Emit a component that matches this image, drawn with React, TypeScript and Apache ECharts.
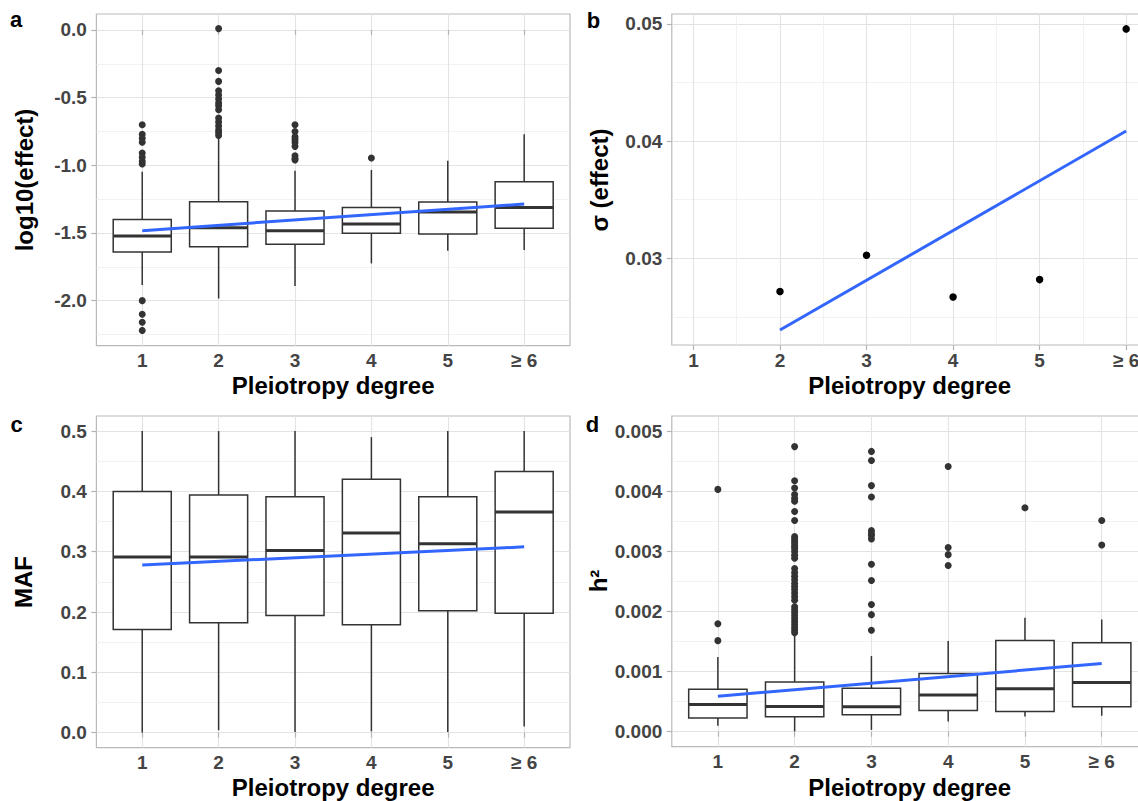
import React, { useEffect, useRef } from 'react';
import * as echarts from 'echarts';

const FONT = '"Liberation Sans", Arial, Helvetica, sans-serif';

// ---------- shared categories ----------
const degrees = [1, 2, 3, 4, 5, 6];
const degreeLabels = ['1', '2', '3', '4', '5', '≥ 6'];
const fitX = [1, 6];

// ---------- panel a : log10(effect) ----------
const aLow = [-1.885, -1.984, -1.892, -1.725, -1.631, -1.626];
const aQ1 = [-1.641, -1.602, -1.584, -1.503, -1.508, -1.466];
const aMedian = [-1.523, -1.461, -1.483, -1.434, -1.345, -1.311];
const aQ3 = [-1.4, -1.269, -1.338, -1.311, -1.272, -1.121];
const aHigh = [-1.047, -0.79, -1.04, -1.035, -0.966, -0.771];
const aOutliers = [
  [-0.7, -0.77, -0.8, -0.83, -0.91, -0.94, -0.97, -0.99, -2.0, -2.1, -2.16, -2.22],
  [0.01, -0.3, -0.38, -0.45, -0.48, -0.51, -0.54, -0.56, -0.59, -0.65, -0.68, -0.71, -0.74, -0.76, -0.78],
  [-0.7, -0.75, -0.79, -0.81, -0.83, -0.86, -0.93, -0.95, -0.96],
  [-0.946],
  [],
  [],
];
const aFitY = [-1.483, -1.286];
const aRange = [-2.333, 0.118];
const aTicks = [-2, -1.5, -1, -0.5, 0];
const aMinorTicks = [-2.25, -1.75, -1.25, -0.75, -0.25];

// ---------- panel b : sigma(effect) ----------
const bDegrees = [2, 3, 4, 5, 6];
const bSigma = [0.02717, 0.03026, 0.0267, 0.02818, 0.04958];
const bFitX = [2, 6];
const bFitY = [0.02388, 0.04086];
const bRange = [0.0226, 0.05085];
const bTicks = [0.03, 0.04, 0.05];
const bMinorTicks = [0.025, 0.035, 0.045];
const bXRange = [0.75, 6.25];
const bXMinorTicks = [1.5, 2.5, 3.5, 4.5, 5.5];

// ---------- panel c : MAF ----------
const cLow = [0.0, 0.004, 0.001, 0.002, 0.001, 0.01];
const cQ1 = [0.171, 0.182, 0.194, 0.179, 0.202, 0.198];
const cMedian = [0.291, 0.291, 0.302, 0.331, 0.313, 0.366];
const cQ3 = [0.4, 0.394, 0.391, 0.42, 0.391, 0.433];
const cHigh = [0.5, 0.5, 0.5, 0.49, 0.5, 0.5];
const cFitY = [0.278, 0.308];
const cRange = [-0.025, 0.525];
const cTicks = [0, 0.1, 0.2, 0.3, 0.4, 0.5];
const cMinorTicks = [0.05, 0.15, 0.25, 0.35, 0.45];

// ---------- panel d : h2 ----------
const dLow = [0.0001, 0.000005, 0.00003, 0.00017, 0.000255, 0.000266];
const dQ1 = [0.000227, 0.000249, 0.000282, 0.000354, 0.000338, 0.000415];
const dMedian = [0.000454, 0.000421, 0.000415, 0.00061, 0.000714, 0.00082];
const dQ3 = [0.000709, 0.00083, 0.000725, 0.00097, 0.00152, 0.00148];
const dHigh = [0.001246, 0.00163, 0.00126, 0.00151, 0.0019, 0.00187];
const dOutliers = [
  [0.004037, 0.0018, 0.001517],
  [
    0.00475, 0.00418, 0.00406, 0.00395, 0.00389, 0.00384, 0.00367, 0.00352, 0.00325, 0.00321, 0.00317,
    0.00313, 0.00309, 0.00305, 0.003, 0.00294, 0.00289, 0.00272, 0.00265, 0.00259, 0.00253, 0.00247,
    0.00242, 0.00237, 0.00231, 0.00225, 0.00219, 0.00208, 0.00203, 0.00198, 0.00193, 0.00188, 0.00183,
    0.00178, 0.00173, 0.00169, 0.00165,
  ],
  [0.00467, 0.00452, 0.0041, 0.00391, 0.00335, 0.0033, 0.00327, 0.00321, 0.00279, 0.00252, 0.00212, 0.00195, 0.00169],
  [0.00442, 0.00307, 0.00295, 0.00277],
  [0.00373],
  [0.00352, 0.00311],
];
const dFitY = [0.000592, 0.001135];
const dRange = [-0.00025, 0.00526];
const dTicks = [0, 0.001, 0.002, 0.003, 0.004, 0.005];
const dMinorTicks = [0.0005, 0.0015, 0.0025, 0.0035, 0.0045];

const catXRange = [0.4, 6.6];

// ---------- styles ----------
const GRID_MAJOR = '#e3e3e3';
const GRID_MINOR = '#efefef';
const TICK_COLOR = '#b3b3b3';
const BOX_STROKE = '#333333';
const FIT_COLOR = '#3366FF';
const BOX_HALF = 0.38;

const labelStyle = {
  color: '#444444',
  fontSize: 19,
  fontWeight: 'bold' as const,
  fontFamily: FONT,
};

function boxRender(_params: any, api: any) {
  const x = api.value(0);
  const lo = api.value(1);
  const q1 = api.value(2);
  const med = api.value(3);
  const q3 = api.value(4);
  const hi = api.value(5);
  const c = (xx: number, yy: number) => api.coord([xx, yy]);
  const tl = c(x - BOX_HALF, q3);
  const br = c(x + BOX_HALF, q1);
  const m1 = c(x - BOX_HALF, med);
  const m2 = c(x + BOX_HALF, med);
  const w0 = c(x, lo);
  const w1 = c(x, q1);
  const w2 = c(x, q3);
  const w3 = c(x, hi);
  return {
    type: 'group',
    children: [
      { type: 'line', shape: { x1: w0[0], y1: w0[1], x2: w1[0], y2: w1[1] }, style: { stroke: BOX_STROKE, lineWidth: 1.5 } },
      { type: 'line', shape: { x1: w2[0], y1: w2[1], x2: w3[0], y2: w3[1] }, style: { stroke: BOX_STROKE, lineWidth: 1.5 } },
      {
        type: 'rect',
        shape: { x: tl[0], y: tl[1], width: br[0] - tl[0], height: br[1] - tl[1] },
        style: { fill: '#ffffff', stroke: BOX_STROKE, lineWidth: 1.5 },
      },
      { type: 'line', shape: { x1: m1[0], y1: m1[1], x2: m2[0], y2: m2[1] }, style: { stroke: BOX_STROKE, lineWidth: 3 } },
    ],
  };
}

function boxRows(lo: number[], q1: number[], med: number[], q3: number[], hi: number[]) {
  return degrees.map((d, i) => [d, lo[i], q1[i], med[i], q3[i], hi[i]]);
}

function outlierRows(out: number[][]) {
  const rows: number[][] = [];
  out.forEach((vals, i) => vals.forEach((v) => rows.push([degrees[i], v])));
  return rows;
}

function catXAxis(gridIndex: number) {
  return {
    type: 'value',
    gridIndex,
    min: catXRange[0],
    max: catXRange[1],
    axisLine: { show: false },
    axisTick: { show: true, length: 5, lineStyle: { color: TICK_COLOR, width: 1.2 }, customValues: degrees },
    axisLabel: {
      ...labelStyle,
      margin: 5.5,
      customValues: degrees,
      formatter: (v: number) => degreeLabels[degrees.indexOf(Math.round(v))] ?? '',
    },
    splitLine: { show: true, lineStyle: { color: GRID_MAJOR, width: 1.1 } },
  };
}

function valYAxis(gridIndex: number, range: number[], ticks: number[], digits: number) {
  return {
    type: 'value',
    gridIndex,
    min: range[0],
    max: range[1],
    position: 'left',
    axisLine: { show: false },
    axisTick: { show: true, length: 5, lineStyle: { color: TICK_COLOR, width: 1.2 }, customValues: ticks },
    axisLabel: {
      ...labelStyle,
      margin: 9.5,
      customValues: ticks,
      formatter: (v: number) => v.toFixed(digits),
    },
    splitLine: { show: true, lineStyle: { color: GRID_MAJOR, width: 1.1 } },
  };
}

function minorYAxis(gridIndex: number, range: number[], ticks: number[]) {
  return {
    type: 'value',
    gridIndex,
    min: range[0],
    max: range[1],
    position: 'right',
    axisLine: { show: false },
    axisTick: { show: false, customValues: ticks },
    axisLabel: { show: false, customValues: ticks },
    splitLine: { show: true, lineStyle: { color: GRID_MINOR, width: 0.8 } },
  };
}

function boxSeries(xi: number, yi: number, rows: number[][]) {
  return {
    type: 'custom',
    xAxisIndex: xi,
    yAxisIndex: yi,
    renderItem: boxRender,
    encode: { x: 0, y: [1, 2, 3, 4, 5] },
    data: rows,
    silent: true,
    z: 3,
  };
}

function pointSeries(xi: number, yi: number, rows: number[][], color: string, size: number) {
  return {
    type: 'scatter',
    xAxisIndex: xi,
    yAxisIndex: yi,
    data: rows,
    symbol: 'circle',
    symbolSize: size,
    itemStyle: { color, opacity: 1 },
    silent: true,
    z: 4,
  };
}

function fitSeries(xi: number, yi: number, xs: number[], ys: number[]) {
  return {
    type: 'line',
    xAxisIndex: xi,
    yAxisIndex: yi,
    data: xs.map((x, i) => [x, ys[i]]),
    symbol: 'none',
    showSymbol: false,
    lineStyle: { color: FIT_COLOR, width: 3 },
    silent: true,
    z: 5,
  };
}

function text(str: string, x: number, y: number, size: number, rotate = false) {
  return {
    type: 'text',
    x,
    y,
    rotation: rotate ? Math.PI / 2 : 0,
    z: 10,
    silent: true,
    style: {
      text: str,
      fill: '#000000',
      fontSize: size,
      fontWeight: 'bold',
      fontFamily: FONT,
      align: 'center',
      verticalAlign: 'middle',
    },
  };
}

export default function App() {
  const ref = useRef<HTMLDivElement>(null);

  useEffect(() => {
    if (!ref.current) return;
    const chart = echarts.init(ref.current, undefined, { renderer: 'svg' });

    const gridBase = {
      show: true,
      borderColor: '#bababa',
      borderWidth: 1.2,
      backgroundColor: '#ffffff',
      containLabel: false,
      outerBoundsMode: 'none',
    };

    const option: any = {
      animation: false,
      backgroundColor: '#ffffff',
      grid: [
        { ...gridBase, left: 96.4, top: 14, width: 473.6, height: 331.7 },
        { ...gridBase, left: 671.8, top: 14, width: 476, height: 331 },
        { ...gridBase, left: 96.4, top: 416, width: 473.6, height: 331.7 },
        { ...gridBase, left: 671.8, top: 416, width: 476, height: 330.7 },
      ],
      xAxis: [
        catXAxis(0),
        {
          type: 'value',
          gridIndex: 1,
          min: bXRange[0],
          max: bXRange[1],
          axisLine: { show: false },
          axisTick: { show: true, length: 5, lineStyle: { color: TICK_COLOR, width: 1.2 }, customValues: degrees },
          axisLabel: {
            ...labelStyle,
            margin: 5.5,
            customValues: degrees,
            formatter: (v: number) => degreeLabels[degrees.indexOf(Math.round(v))] ?? '',
          },
          splitLine: { show: true, lineStyle: { color: GRID_MAJOR, width: 1.1 } },
        },
        {
          type: 'value',
          gridIndex: 1,
          min: bXRange[0],
          max: bXRange[1],
          position: 'top',
          axisLine: { show: false },
          axisTick: { show: false, customValues: bXMinorTicks },
          axisLabel: { show: false, customValues: bXMinorTicks },
          splitLine: { show: true, lineStyle: { color: GRID_MINOR, width: 0.8 } },
        },
        catXAxis(2),
        catXAxis(3),
      ],
      yAxis: [
        valYAxis(0, aRange, aTicks, 1),
        minorYAxis(0, aRange, aMinorTicks),
        valYAxis(1, bRange, bTicks, 2),
        minorYAxis(1, bRange, bMinorTicks),
        valYAxis(2, cRange, cTicks, 1),
        minorYAxis(2, cRange, cMinorTicks),
        valYAxis(3, dRange, dTicks, 3),
        minorYAxis(3, dRange, dMinorTicks),
      ],
      series: [
        // a
        boxSeries(0, 0, boxRows(aLow, aQ1, aMedian, aQ3, aHigh)),
        pointSeries(0, 0, outlierRows(aOutliers), '#333333', 7),
        fitSeries(0, 0, fitX, aFitY),
        // b
        pointSeries(1, 2, bDegrees.map((d, i) => [d, bSigma[i]]), '#000000', 7.5),
        fitSeries(1, 2, bFitX, bFitY),
        // c
        boxSeries(3, 4, boxRows(cLow, cQ1, cMedian, cQ3, cHigh)),
        fitSeries(3, 4, fitX, cFitY),
        // d
        boxSeries(4, 6, boxRows(dLow, dQ1, dMedian, dQ3, dHigh)),
        pointSeries(4, 6, outlierRows(dOutliers), '#333333', 7),
        fitSeries(4, 6, fitX, dFitY),
      ],
      graphic: [
        text('a', 16, 19.5, 22),
        text('b', 593.5, 20.5, 22),
        text('c', 16.5, 424.5, 22),
        text('d', 592.5, 424.5, 22),
        text('log10(effect)', 24, 180, 24, true),
        text('σ (effect)', 599, 180, 24, true),
        text('MAF', 23, 582, 24, true),
        text('h²', 598, 581, 24, true),
        text('Pleiotropy degree', 333.2, 385, 24),
        text('Pleiotropy degree', 909.7, 385, 24),
        text('Pleiotropy degree', 333.2, 787, 24),
        text('Pleiotropy degree', 909.7, 787, 24),
      ],
    };

    chart.setOption(option);
    return () => {
      chart.dispose();
    };
  }, []);

  return (
    <div
      ref={ref}
      style={{ position: 'fixed', left: 0, top: 0, width: 1138, height: 801, background: '#ffffff' }}
    />
  );
}
